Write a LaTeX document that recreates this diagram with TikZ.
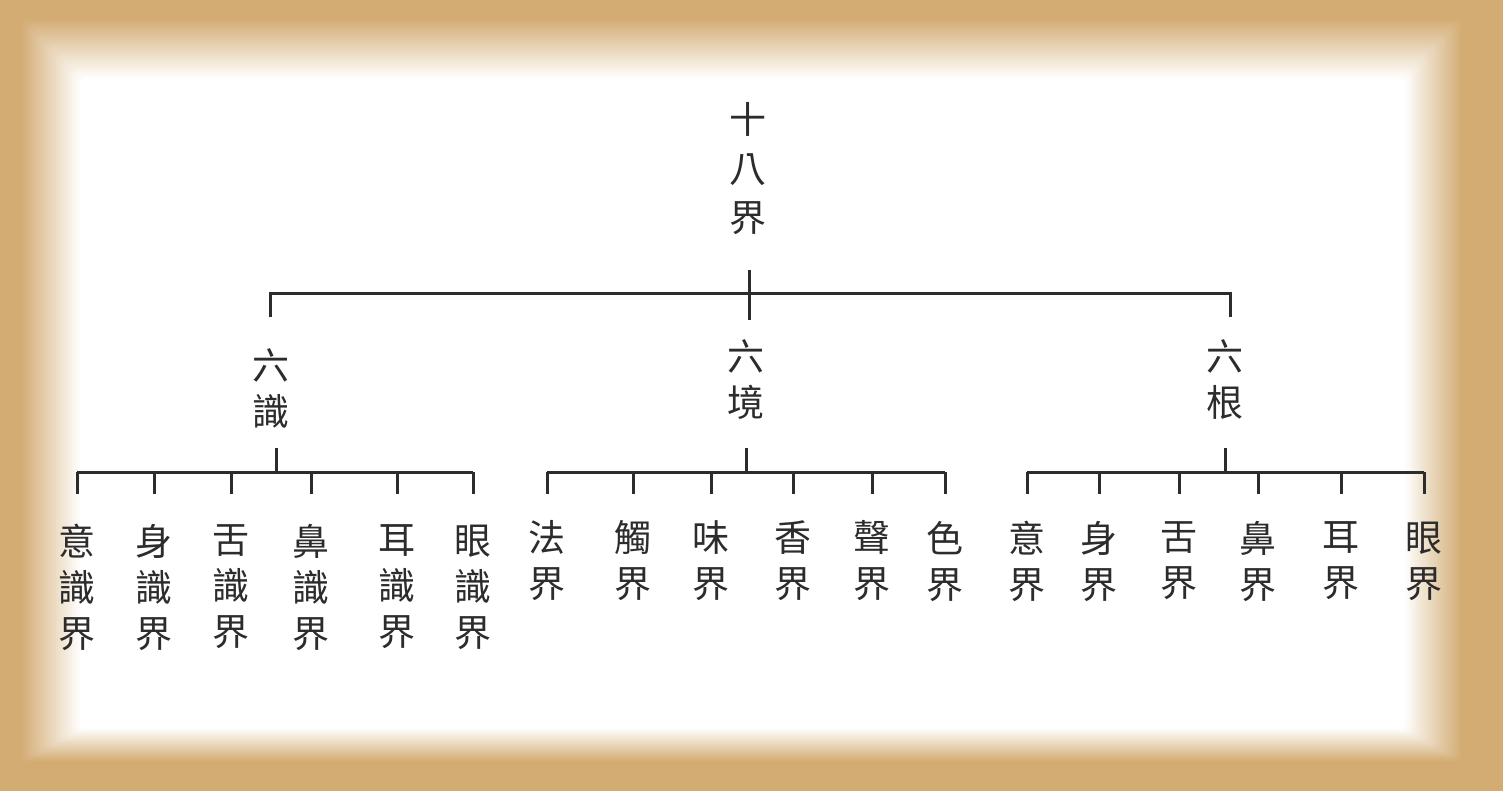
\documentclass[tikz,border=0pt]{standalone}
\usepackage{fontspec}
\newfontfamily\cjk{Noto Sans CJK TC}
\definecolor{frametan}{HTML}{D3AC73}
\definecolor{ink}{HTML}{2C2C2C}
\tikzset{
  lbl/.style={font=\cjk\fontsize{37}{46}\selectfont, align=center, inner sep=0pt, text=ink},
  rootlbl/.style={lbl, font=\cjk\fontsize{37}{49}\selectfont},
  treeline/.style={draw=ink, line width=3pt},
}
\begin{document}
\begin{tikzpicture}[x=1pt,y=-1pt]
\useasboundingbox (0,0) rectangle (1503,791);
% frame with soft white panel
\fill[frametan] (0,0) rectangle (1503,791);
\foreach \i in {0,...,30}{
  \pgfmathsetmacro\p{100*\i/30}
  \fill[white!\p!frametan, rounded corners=6pt] (20+2*\i,18+2*\i) rectangle (1463-1.93*\i,762-1.1*\i);
}
% root and middle level
\node[rootlbl] (root) at (748,169) {十\\八\\界};
\node[lbl] (sA) at (271,388) {六\\識};
\node[lbl] (sB) at (746,380) {六\\境};
\node[lbl] (sC) at (1225,380) {六\\根};
% top connector
\coordinate (r0) at (749,270);
\coordinate (r1) at (749,320);
\coordinate (barL) at (270,294);
\coordinate (barR) at (1230,294);
\coordinate (a0) at (270,317);
\coordinate (c0) at (1230,317);
\draw[treeline] (r0) -- (r1);
\draw[treeline] (a0) -- (barL) -- (barR) -- (c0);
% group A: six consciousnesses
\coordinate (aS) at (276,448);
\coordinate (aJ) at (276,472);
\coordinate (aL) at (77,472);
\coordinate (aR) at (473,472);
\draw[treeline] (aS) -- (aJ);
\draw[treeline] (aL) -- (aR);
\foreach \x/\t [count=\k] in {77/{意\\識\\界},154/{身\\識\\界},231/{舌\\識\\界},311/{鼻\\識\\界},397/{耳\\識\\界},473/{眼\\識\\界}}{
  \node[lbl] (la\k) at (\x,587) {\t};
  \coordinate (ta\k) at (\x,472);
  \coordinate (ea\k) at (\x,494);
  \draw[treeline] (ta\k) -- (ea\k);
}
% group B: six objects
\coordinate (bS) at (746,448);
\coordinate (bJ) at (746,472);
\coordinate (bL) at (547,472);
\coordinate (bR) at (945,472);
\draw[treeline] (bS) -- (bJ);
\draw[treeline] (bL) -- (bR);
\foreach \x/\t [count=\k] in {547/{法\\界},633/{觸\\界},711/{味\\界},793/{香\\界},872/{聲\\界},945/{色\\界}}{
  \node[lbl] (lb\k) at (\x,561) {\t};
  \coordinate (tb\k) at (\x,472);
  \coordinate (eb\k) at (\x,494);
  \draw[treeline] (tb\k) -- (eb\k);
}
% group C: six faculties
\coordinate (cS) at (1225,448);
\coordinate (cJ) at (1225,472);
\coordinate (cL) at (1027,472);
\coordinate (cR) at (1424,472);
\draw[treeline] (cS) -- (cJ);
\draw[treeline] (cL) -- (cR);
\foreach \x/\t [count=\k] in {1027/{意\\界},1099/{身\\界},1179/{舌\\界},1258/{鼻\\界},1341/{耳\\界},1424/{眼\\界}}{
  \node[lbl] (lc\k) at (\x,561) {\t};
  \coordinate (tc\k) at (\x,472);
  \coordinate (ec\k) at (\x,494);
  \draw[treeline] (tc\k) -- (ec\k);
}
\end{tikzpicture}
\end{document}
